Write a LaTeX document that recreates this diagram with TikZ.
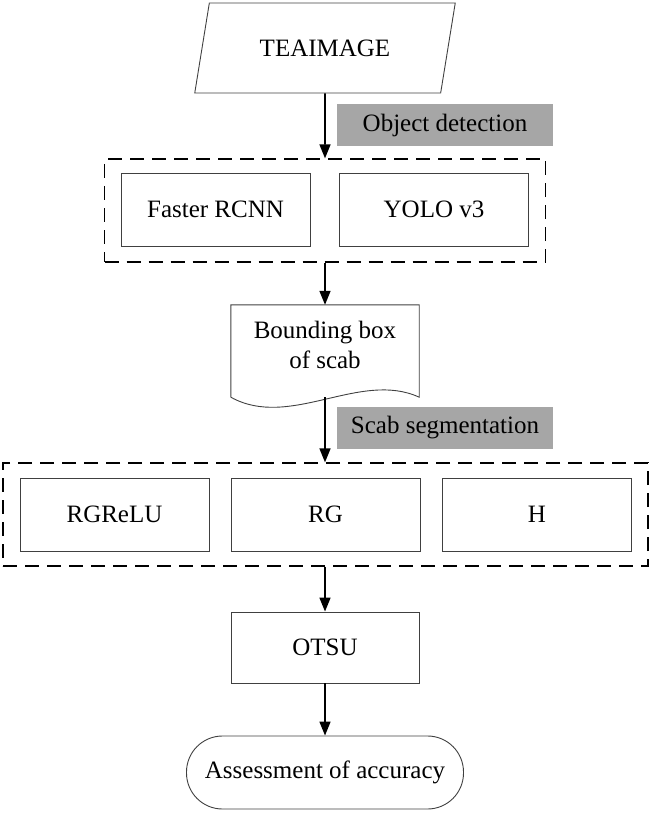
\documentclass[tikz,border=0pt]{standalone}
\usepackage{fontspec}
\setmainfont{Liberation Serif}
\usetikzlibrary{shapes.geometric,arrows.meta}
\definecolor{labelgray}{RGB}{166,166,166}
\begin{document}
\begin{tikzpicture}
[x=1pt,y=-1pt
,every node/.style={font=\fontsize{25}{30}\selectfont,inner sep=0pt}
,box/.style={draw=black!75,line width=0.9pt,minimum width=189pt,minimum height=73pt}
,groupbox/.style={draw,dash pattern=on 14pt off 8pt,line width=1.3pt,minimum height=103pt}
,tagbox/.style={fill=labelgray,minimum width=216pt,minimum height=42pt}
,inputbox/.style={draw=black!75,line width=0.9pt,trapezium,trapezium left angle=63.9,trapezium right angle=116.1,trapezium stretches=true,minimum width=261pt,minimum height=90pt}
,stopbox/.style={draw=black!75,line width=0.9pt,rounded corners=36pt,minimum width=277pt,minimum height=73pt}
,flow/.style={-{Triangle[length=14pt,width=11pt]},line width=1.6pt}
]
\useasboundingbox (0,0) rectangle (650,813);

\node[inputbox](teaimage) at (325,48)    {TEAIMAGE};
\node[tagbox](objdet)     at (445,125)   {Object detection};
\node[groupbox,minimum width=441pt](detect) at (325,210.5) {};
\node[box](faster)        at (215.5,209.5) {Faster RCNN};
\node[box](yolo)          at (434,209.5)   {YOLO v3};

\node[minimum width=188pt,minimum height=92pt,align=center,text depth=12pt](bbox) at (325,351) {Bounding box\\of scab};
\draw[draw=black!75,line width=0.9pt] (bbox.south west) -- (bbox.north west) -- (bbox.north east) -- (bbox.south east)
  .. controls (360,370) and (290,430) .. (bbox.south west);

\node[tagbox](scabseg)    at (445,427.5) {Scab segmentation};
\node[groupbox,minimum width=645pt](segment) at (325.5,514.5) {};
\node[box](rgrelu)        at (114.5,514.5) {RGReLU};
\node[box](rg)            at (325.5,514.5) {RG};
\node[box](h)             at (537,514.5)   {H};

\node[box,minimum width=188pt,minimum height=71pt](otsu) at (325,647.5) {OTSU};
\node[stopbox](assess)    at (325,772.5) {Assessment of accuracy};

\draw[flow] (teaimage.south) -- (detect.north);
\draw[flow] (detect.south) -- (bbox.north);
\draw[flow] (bbox.south) -- (bbox.south |- segment.north);
\draw[flow] (bbox.south |- segment.south) -- (otsu.north);
\draw[flow] (otsu.south) -- (assess.north);

\end{tikzpicture}
\end{document}
